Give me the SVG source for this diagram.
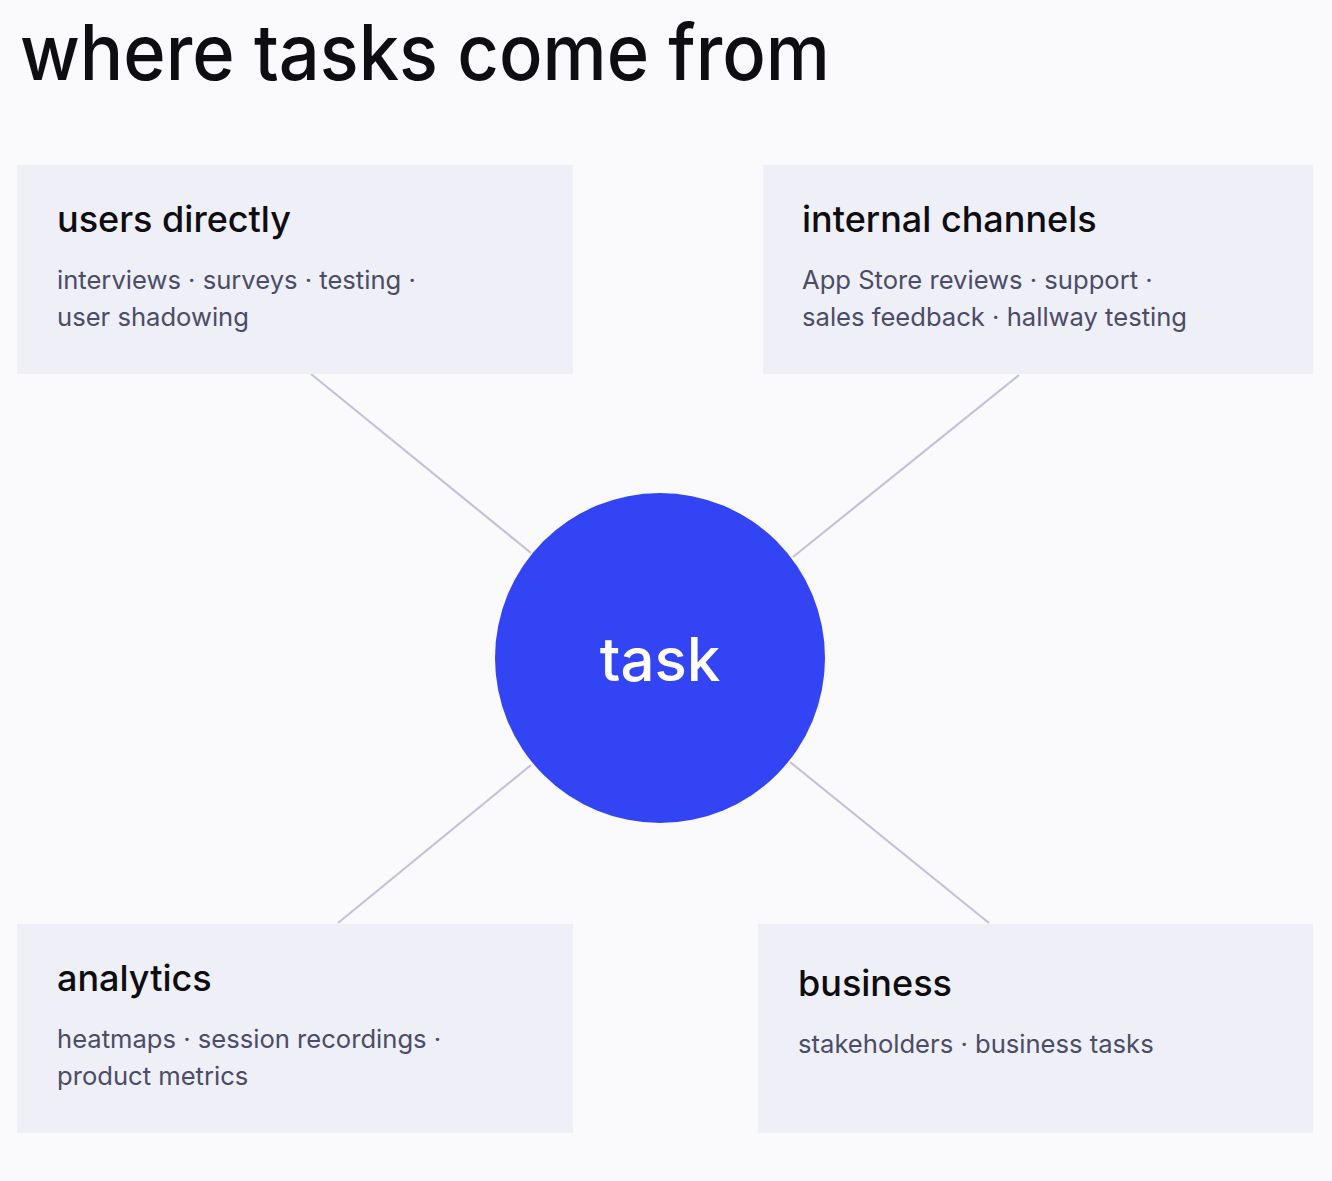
<svg xmlns="http://www.w3.org/2000/svg" width="1332" height="1181" viewBox="0 0 1332 1181">
<style>
.bg{fill:#fafafc}
.box{fill:#efeff7}
.h{font-family:Inter,"Liberation Sans",sans-serif;font-size:36px;font-weight:500;fill:#0d0d12}
.s{font-family:Inter,"Liberation Sans",sans-serif;font-size:25.6px;fill:#4a4c68}
.c{stroke:#c3c2d8;stroke-width:2.2;fill:none}
</style>
<rect class="bg" width="1332" height="1181"/>
<text x="20" y="80" font-family="Inter, Liberation Sans, sans-serif" font-weight="500" font-size="77" fill="#0d0d12" textLength="810" lengthAdjust="spacingAndGlyphs">where tasks come from</text>
<g id="connectors">
<line class="c" x1="311" y1="374" x2="531" y2="553"/>
<line class="c" x1="1019" y1="375" x2="793" y2="557"/>
<line class="c" x1="338" y1="923" x2="531" y2="765"/>
<line class="c" x1="989" y1="923" x2="790" y2="762"/>
</g>
<g id="users-directly">
<rect class="box" x="17" y="165" width="556" height="209"/>
<text class="h" x="57" y="232">users directly</text>
<text class="s" x="57" y="289">interviews · surveys · testing ·</text>
<text class="s" x="57" y="326">user shadowing</text>
</g>
<g id="internal-channels">
<rect class="box" x="763" y="165" width="550" height="209"/>
<text class="h" x="802" y="232">internal channels</text>
<text class="s" x="802" y="289">App Store reviews · support ·</text>
<text class="s" x="802" y="326">sales feedback · hallway testing</text>
</g>
<g id="analytics">
<rect class="box" x="17" y="924" width="556" height="209"/>
<text class="h" x="57" y="991">analytics</text>
<text class="s" x="57" y="1048">heatmaps · session recordings ·</text>
<text class="s" x="57" y="1085">product metrics</text>
</g>
<g id="business">
<rect class="box" x="758" y="924" width="555" height="209"/>
<text class="h" x="798" y="996">business</text>
<text class="s" x="798" y="1053">stakeholders · business tasks</text>
</g>
<g id="task">
<circle cx="660" cy="658" r="165" fill="#3344f4"/>
<text x="660" y="681" text-anchor="middle" font-family="Inter, Liberation Sans, sans-serif" font-weight="500" font-size="60" fill="#ffffff">task</text>
</g>
</svg>
